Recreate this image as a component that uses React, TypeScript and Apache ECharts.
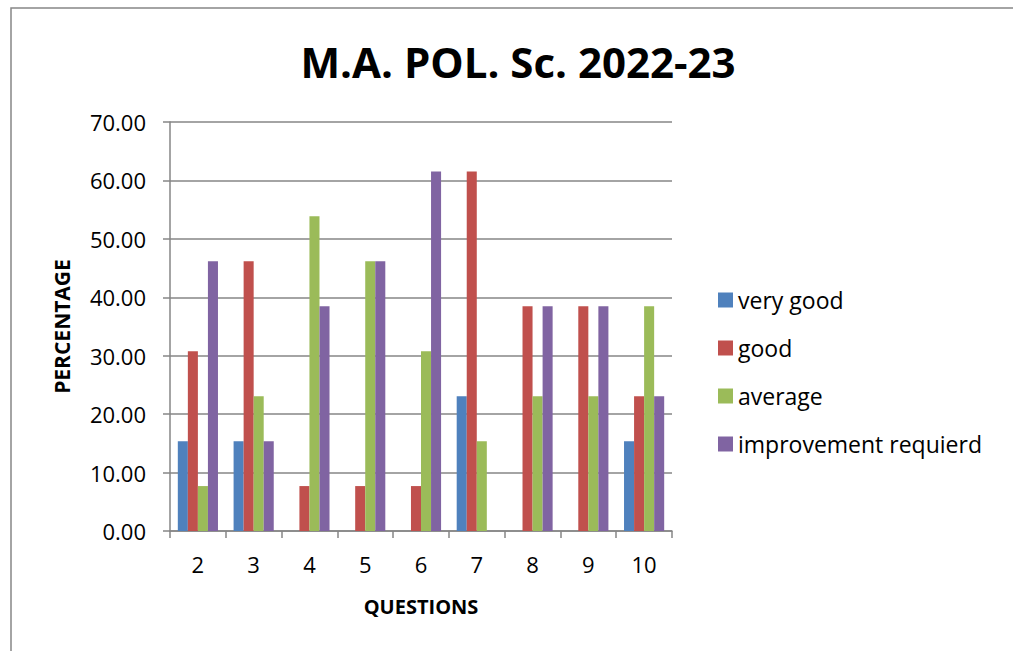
import React, { useEffect, useRef } from "react";
import * as echarts from "echarts";

const categories = ["2", "3", "4", "5", "6", "7", "8", "9", "10"];
const veryGood = [15.38, 15.38, 0, 0, 0, 23.08, 0, 0, 15.38];
const good = [30.77, 46.15, 7.69, 7.69, 7.69, 61.54, 38.46, 38.46, 23.08];
const average = [7.69, 23.08, 53.85, 46.15, 30.77, 15.38, 23.08, 23.08, 38.46];
const improvement = [46.15, 15.38, 38.46, 46.15, 61.54, 0, 38.46, 38.46, 23.08];
const seriesNames = ["very good", "good", "average", "improvement requierd"];
const colors = ["#4F81BD", "#C0504D", "#9BBB59", "#8064A2"];

export default function App() {
  const ref = useRef<HTMLDivElement>(null);
  useEffect(() => {
    if (!ref.current) return;
    const chart = echarts.init(ref.current, undefined, { renderer: "svg" });
    const font = "'Open Sans', 'Noto Sans', sans-serif";
    const data = [veryGood, good, average, improvement];
    chart.setOption({
      animation: false,
      textStyle: { fontFamily: font },
      graphic: [
        {
          type: "rect",
          shape: { x: 11, y: 8, width: 1100, height: 800 },
          style: { fill: "none", stroke: "#878787", lineWidth: 1.5 },
          silent: true,
        },
      ],
      title: {
        text: "M.A. POL. Sc. 2022-23",
        left: 513,
        textAlign: "center",
        top: 35,
        textStyle: { fontSize: 42, fontWeight: "bold", color: "#000", fontFamily: font },
      },
      legend: {
        orient: "vertical",
        left: 713,
        top: 282,
        itemWidth: 15,
        itemHeight: 15,
        itemGap: 22,
        icon: "rect",
        textStyle: { fontSize: 23, lineHeight: 26, color: "#000", fontFamily: font },
        data: seriesNames,
      },
      grid: { left: 170, top: 122, width: 502, height: 409 },
      xAxis: {
        type: "category",
        data: categories,
        name: "QUESTIONS",
        nameLocation: "middle",
        nameGap: 65,
        nameTextStyle: { fontSize: 20, fontWeight: "bold", color: "#000", fontFamily: font },
        axisLine: { lineStyle: { color: "#868686", width: 1.5 } },
        axisTick: { show: true, length: 7, lineStyle: { color: "#868686", width: 1.5 } },
        axisLabel: { fontSize: 22, color: "#000", margin: 22 },
      },
      yAxis: {
        type: "value",
        min: 0,
        max: 70,
        interval: 10,
        name: "PERCENTAGE",
        nameLocation: "middle",
        nameGap: 98,
        nameTextStyle: { fontSize: 21, fontWeight: "bold", color: "#000", fontFamily: font },
        axisLine: { show: true, lineStyle: { color: "#868686", width: 1.5 } },
        axisTick: { show: true, length: 7, lineStyle: { color: "#868686", width: 1.5 } },
        splitLine: { lineStyle: { color: "#868686", width: 1.5 } },
        axisLabel: {
          fontSize: 22,
          color: "#000",
          margin: 24,
          formatter: (v: number) => v.toFixed(2),
        },
      },
      series: seriesNames.map((name, i) => ({
        name,
        type: "bar",
        data: data[i],
        barGap: "0%",
        barCategoryGap: "28%",
        itemStyle: { color: colors[i] },
      })),
    });
    return () => chart.dispose();
  }, []);
  return (
    <div
      ref={ref}
      style={{ position: "absolute", left: 0, top: 0, width: 1013, height: 651 }}
    />
  );
}
